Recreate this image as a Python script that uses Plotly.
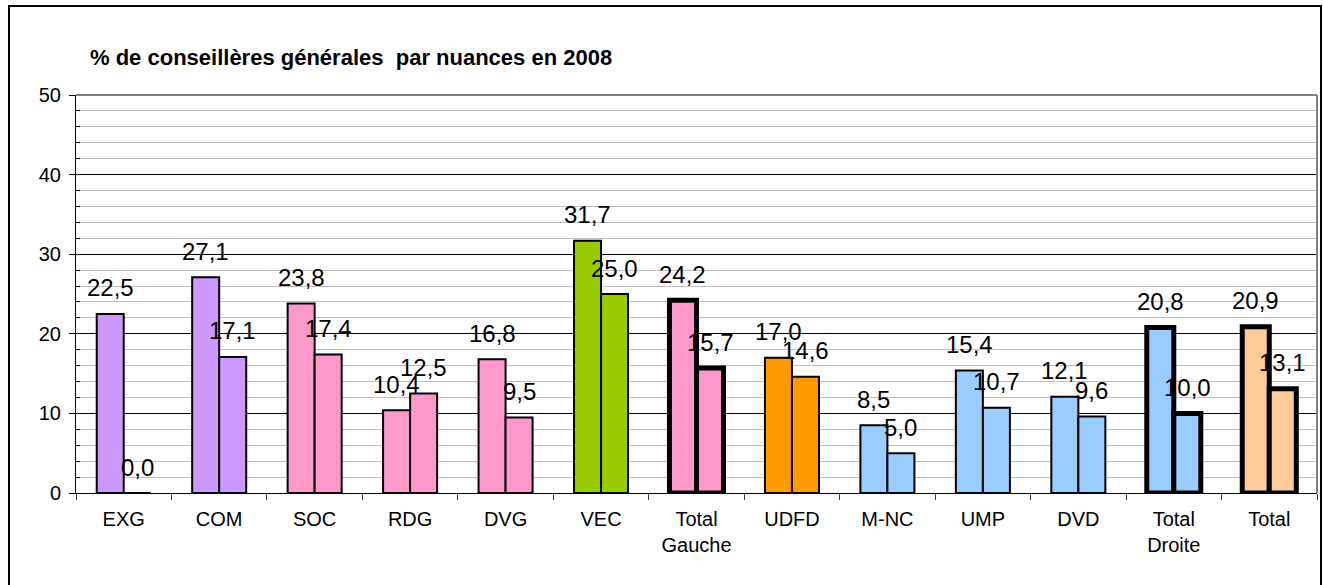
import plotly.graph_objects as go

categories = ["EXG", "COM", "SOC", "RDG", "DVG", "VEC", "Total<br>Gauche",
              "UDFD", "M-NC", "UMP", "DVD", "Total<br>Droite", "Total"]
series_a = [22.5, 27.1, 23.8, 10.4, 16.8, 31.7, 24.2, 17.0, 8.5, 15.4, 12.1, 20.8, 20.9]
series_b = [0.0, 17.1, 17.4, 12.5, 9.5, 25.0, 15.7, 14.6, 5.0, 10.7, 9.6, 10.0, 13.1]
colors = ["#CC99FF", "#CC99FF", "#FF99CC", "#FF99CC", "#FF99CC", "#99CC00", "#FF99CC",
          "#FF9900", "#99CCFF", "#99CCFF", "#99CCFF", "#99CCFF", "#FFCC99"]
is_total = [False, False, False, False, False, False, True,
            False, False, False, False, True, True]
title_text = "% de conseillères générales  par nuances en 2008"

W, H = 1323, 585
L, R, T, B = 76, 6, 95, 92
pw, ph = W - L - R, H - T - B
cat_w = pw / len(categories)
bargap = 0.434
bar_w = cat_w * (1 - bargap) / 2

def fmt(v):
    return f"{v:.1f}".replace(".", ",")

line_w = [5 if t else 2 for t in is_total]

fig = go.Figure()
for name, vals in (("série 1", series_a), ("série 2", series_b)):
    fig.add_trace(go.Bar(
        x=categories, y=vals, name=name,
        marker=dict(color=colors, line=dict(color="black", width=line_w)),
        showlegend=False,
    ))

annotations = []
for i, cat in enumerate(categories):
    for vals, sh in ((series_a, -bar_w / 2), (series_b, bar_w / 2)):
        annotations.append(dict(
            x=cat, y=vals[i], xref="x", yref="y", text=fmt(vals[i]),
            showarrow=False, xshift=sh, yshift=26, yanchor="middle",
            font=dict(family="Liberation Sans", size=24, color="black"),
        ))

fig.update_layout(
    width=W, height=H,
    margin=dict(l=L, r=R, t=T, b=B, autoexpand=False),
    paper_bgcolor="white", plot_bgcolor="white",
    barmode="group", bargap=bargap, bargroupgap=0,
    title=dict(text=title_text, x=90 / W, y=1 - 57 / H, xanchor="left", yanchor="middle",
               font=dict(family="Liberation Sans", size=22, color="black", weight="bold")),
    font=dict(family="Liberation Sans", size=20, color="black"),
    annotations=annotations,
    xaxis=dict(type="category", showline=True, linecolor="black", linewidth=1,
               ticks="outside", tickson="boundaries", ticklen=6, tickcolor="#404040",
               tickfont=dict(size=20), showgrid=False, ticklabelstandoff=8),
    yaxis=dict(range=[0, 50], dtick=10, showline=True, linecolor="black", linewidth=1,
               ticks="outside", ticklen=6, tickcolor="black", tickfont=dict(size=20),
               ticklabelstandoff=4,
               showgrid=True, gridcolor="#000000", gridwidth=1, zeroline=False,
               minor=dict(dtick=2, showgrid=True, gridcolor="#C0C0C0", gridwidth=1,
                          ticks="inside", ticklen=4, tickcolor="black")),
    shapes=[
        dict(type="line", xref="paper", yref="paper", x0=0, x1=1, y0=1, y1=1,
             line=dict(color="#808080", width=2)),
        dict(type="line", xref="paper", yref="paper", x0=1, x1=1, y0=0, y1=1,
             line=dict(color="#808080", width=2)),
        dict(type="rect", xref="paper", yref="paper",
             x0=(9 - L) / pw, x1=(1321 - L) / pw,
             y0=(ph + T - 600) / ph, y1=(ph + T - 6) / ph,
             line=dict(color="black", width=2), fillcolor="rgba(0,0,0,0)"),
    ],
)

fig.write_html("out.html", config={"displayModeBar": False},
               post_script="document.body.style.margin='0px';")
